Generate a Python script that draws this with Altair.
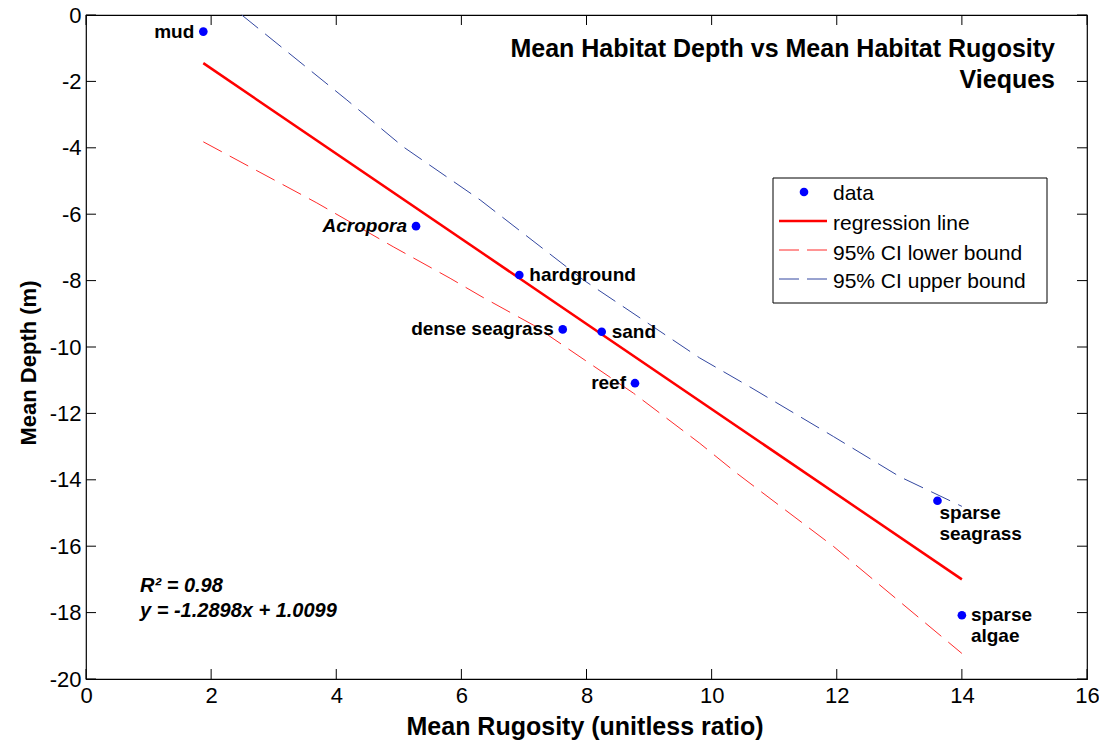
import altair as alt
import pandas as pd

FONT = "Liberation Sans"

# ---- data ----
habitats = ["mud", "Acropora", "hardground", "dense seagrass", "sand", "reef",
            "sparse seagrass", "sparse algae"]
rugosity = [1.875, 5.275, 6.926, 7.62, 8.243, 8.775, 13.61, 14.00]
depth = [-0.50, -6.36, -7.83, -9.47, -9.54, -11.09, -14.63, -18.08]

reg_x = [1.875, 14.0]
reg_y = [-1.45, -17.0]

upper_x = [2.49, 4.17, 5.07, 6.30, 7.95, 9.81, 10.61, 11.95, 13.01, 14.0]
upper_y = [0.0, -2.56, -3.97, -5.57, -7.98, -10.33, -11.20, -12.70, -13.91, -14.80]

lower_x = [1.875, 3.69, 4.91, 5.82, 6.33, 7.15, 8.75, 9.81, 10.40, 11.95, 14.0]
lower_y = [-3.82, -5.66, -6.98, -7.93, -8.49, -9.34, -11.39, -12.90, -13.80, -16.01, -19.23]

x_ticks = [0, 2, 4, 6, 8, 10, 12, 14, 16]
y_ticks = [0, -2, -4, -6, -8, -10, -12, -14, -16, -18, -20]

legend_labels = ["data", "regression line", "95% CI lower bound", "95% CI upper bound"]

W, H = 1001, 664
xs = alt.Scale(domain=[0, 16], nice=False, zero=False)
ys = alt.Scale(domain=[-20, 0], nice=False, zero=False)

pts = pd.DataFrame({"x": rugosity, "y": depth, "label": habitats})

X_AXIS = alt.Axis(values=x_ticks, ticks=False, domain=False, grid=False,
                  labelExpr="'' + datum.value",
                  labelFont=FONT, labelFontSize=22, labelColor="black",
                  labelPadding=6, title="Mean Rugosity (unitless ratio)",
                  titleFont=FONT, titleFontSize=25, titleFontWeight="bold",
                  titleColor="black", titleBaseline="alphabetic", titleY=55,
                  titleX=W / 2 - 2, labelFlush=False)
Y_AXIS = alt.Axis(values=y_ticks, ticks=False, domain=False, grid=False,
                  labelExpr="'' + datum.value",
                  labelFont=FONT, labelFontSize=22, labelColor="black",
                  labelPadding=5, title="Mean Depth (m)", titleFont=FONT,
                  titleFontSize=22, titleFontWeight="bold", titleColor="black",
                  titleAngle=270, titleX=-58, titleY=347.5,
                  titleBaseline="middle", titleAlign="center", labelFlush=False)

base_pts = alt.Chart(pts)

points = base_pts.mark_circle(size=75, color="#0000ff", opacity=1).encode(
    x=alt.X("x:Q", scale=xs, axis=X_AXIS),
    y=alt.Y("y:Q", scale=ys, axis=Y_AXIS),
)

reg = alt.Chart(pd.DataFrame({"x": reg_x, "y": reg_y})).mark_line(
    color="#ff0000", strokeWidth=2.5).encode(
    x=alt.X("x:Q", scale=xs), y=alt.Y("y:Q", scale=ys))

lower = alt.Chart(pd.DataFrame({"x": lower_x, "y": lower_y})).mark_line(
    color="#ff2a2a", strokeWidth=1, strokeDash=[21, 9]).encode(
    x=alt.X("x:Q", scale=xs), y=alt.Y("y:Q", scale=ys))

upper = alt.Chart(pd.DataFrame({"x": upper_x, "y": upper_y})).mark_line(
    color="#3347a0", strokeWidth=1, strokeDash=[21, 9]).encode(
    x=alt.X("x:Q", scale=xs), y=alt.Y("y:Q", scale=ys))

def lbl(names, text_map=None, **kw):
    d = pts[pts["label"].isin(names)].copy()
    if text_map:
        d["label"] = d["label"].map(lambda s: text_map.get(s, s))
    return alt.Chart(d).mark_text(font=FONT, fontSize=19, fontWeight="bold",
                                  color="black", **kw).encode(
        x=alt.X("x:Q", scale=xs), y=alt.Y("y:Q", scale=ys), text="label:N")

lab_left = lbl(["mud", "dense seagrass", "reef"], align="right", baseline="middle", dx=-9)
lab_acro = lbl(["Acropora"], align="right", baseline="middle", dx=-9, fontStyle="italic")
lab_right = lbl(["hardground", "sand"], align="left", baseline="middle", dx=10)
lab_ss = lbl(["sparse seagrass"], {"sparse seagrass": "sparse\nseagrass"},
             align="left", baseline="middle", dx=2, dy=12.5, lineBreak="\n", lineHeight=21)
lab_sa = lbl(["sparse algae"], {"sparse algae": "sparse\nalgae"},
             align="left", baseline="middle", dx=9, dy=0, lineBreak="\n", lineHeight=21)

# ---- inward ticks on all four sides ----
xt = alt.Chart(pd.DataFrame({"t": x_ticks}))
yt = alt.Chart(pd.DataFrame({"t": y_ticks}))
tick_b = xt.mark_rule(color="black", strokeWidth=1).encode(
    x=alt.X("t:Q", scale=xs), y=alt.value(H), y2=alt.value(H - 10))
tick_t = xt.mark_rule(color="black", strokeWidth=1).encode(
    x=alt.X("t:Q", scale=xs), y=alt.value(0), y2=alt.value(10))
tick_l = yt.mark_rule(color="black", strokeWidth=1).encode(
    y=alt.Y("t:Q", scale=ys), x=alt.value(0), x2=alt.value(10))
tick_r = yt.mark_rule(color="black", strokeWidth=1).encode(
    y=alt.Y("t:Q", scale=ys), x=alt.value(W), x2=alt.value(W - 10))

# ---- title inside plot ----
title1 = alt.Chart(pd.DataFrame({"t": ["Mean Habitat Depth vs Mean Habitat Rugosity"]})).mark_text(
    font=FONT, fontSize=25, fontWeight="bold", align="right", baseline="alphabetic",
    color="black").encode(x=alt.value(969), y=alt.value(42), text="t:N")
title2 = alt.Chart(pd.DataFrame({"t": ["Vieques"]})).mark_text(
    font=FONT, fontSize=25, fontWeight="bold", align="right", baseline="alphabetic",
    color="black").encode(x=alt.value(969), y=alt.value(73), text="t:N")

# ---- R^2 annotation ----
r2 = alt.Chart(pd.DataFrame({"t": ["R² = 0.98"]})).mark_text(
    font=FONT, fontSize=20, fontWeight="bold", fontStyle="italic", align="left",
    baseline="alphabetic", color="black").encode(x=alt.value(54), y=alt.value(577), text="t:N")
eq = alt.Chart(pd.DataFrame({"t": ["y = -1.2898x + 1.0099"]})).mark_text(
    font=FONT, fontSize=20, fontWeight="bold", fontStyle="italic", align="left",
    baseline="alphabetic", color="black").encode(x=alt.value(54), y=alt.value(602), text="t:N")

# ---- legend (manual, MATLAB style) ----
leg_box = alt.Chart(pd.DataFrame({"a": [0]})).mark_rect(
    fill="white", stroke="black", strokeWidth=1).encode(
    x=alt.value(687), x2=alt.value(961), y=alt.value(163), y2=alt.value(288))
leg_dot = alt.Chart(pd.DataFrame({"a": [0]})).mark_circle(
    size=75, color="#0000ff", opacity=1).encode(x=alt.value(718), y=alt.value(177))
leg_reg = alt.Chart(pd.DataFrame({"a": [0]})).mark_rule(color="#ff0000", strokeWidth=2.5).encode(
    x=alt.value(693), x2=alt.value(741), y=alt.value(206))
leg_low = alt.Chart(pd.DataFrame({"a": [0]})).mark_rule(
    color="#ff2a2a", strokeWidth=1, strokeDash=[20, 8]).encode(
    x=alt.value(693), x2=alt.value(741), y=alt.value(235))
leg_up = alt.Chart(pd.DataFrame({"a": [0]})).mark_rule(
    color="#3347a0", strokeWidth=1, strokeDash=[20, 8]).encode(
    x=alt.value(693), x2=alt.value(741), y=alt.value(264))
leg_txt = [
    alt.Chart(pd.DataFrame({"t": [txt]})).mark_text(
        font=FONT, fontSize=21, align="left", baseline="alphabetic", color="black").encode(
        x=alt.value(747), y=alt.value(yy), text="t:N")
    for txt, yy in zip(legend_labels, [185, 215, 245, 273])
]

chart = alt.layer(
    upper, lower, reg, points,
    lab_left, lab_acro, lab_right, lab_ss, lab_sa,
    tick_b, tick_t, tick_l, tick_r,
    title1, title2, r2, eq,
    leg_box, leg_dot, leg_reg, leg_low, leg_up, *leg_txt,
).properties(
    width=W, height=H,
    autosize=alt.AutoSizeParams(type="none"),
    padding={"left": 86, "top": 15, "right": 12, "bottom": 61},
    background="white",
).configure_view(stroke="black", strokeWidth=1.2)

chart.save("out.html", embed_options={"renderer": "svg", "actions": False})
